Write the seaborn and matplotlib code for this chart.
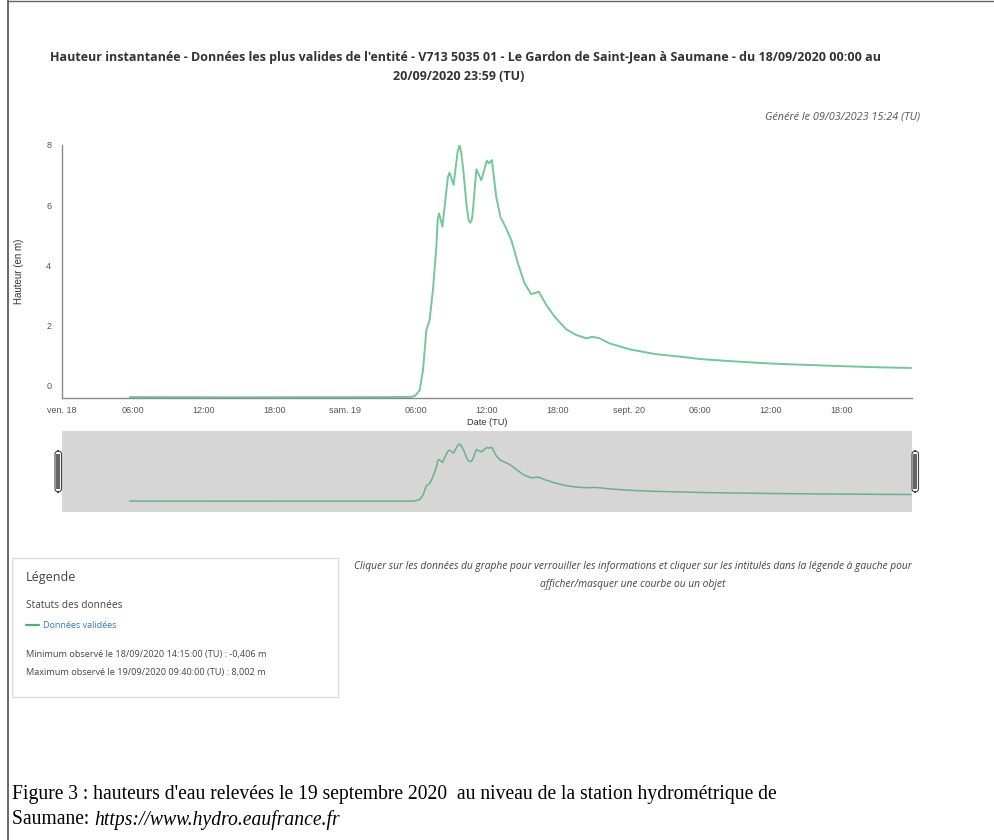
import matplotlib
matplotlib.use("Agg")
import matplotlib.pyplot as plt
from matplotlib.patches import Rectangle, FancyBboxPatch
from matplotlib.lines import Line2D
import seaborn as sns
import pandas as pd

# Water height at the Saumane gauge, hours counted from 18/09/2020 00:00 (TU)
heures = [5.75, 10.0, 14.25, 20.0, 26.0, 29.5, 29.9, 30.3, 30.58, 30.86, 31.14,
          31.42, 31.71, 31.82, 31.93, 32.05, 32.22, 32.41, 32.69, 32.83, 33.17,
          33.50, 33.667, 33.82, 34.02, 34.25, 34.44, 34.59, 34.72, 34.81, 35.10,
          35.52, 35.99, 36.16, 36.41, 36.78, 37.13, 37.63, 38.06, 38.62, 39.18,
          39.75, 40.39, 41.02, 41.72, 42.71, 43.55, 44.40, 44.96, 45.53, 46.38,
          48.10, 50.31, 52.58, 53.99, 56.53, 59.92, 63.30, 66.09, 69.48, 71.92]
hauteurs = [-0.398, -0.402, -0.406, -0.403, -0.400, -0.395, -0.36, -0.17, 0.50,
            1.83, 2.17, 3.17, 4.61, 5.50, 5.72, 5.56, 5.28, 5.94, 6.94, 7.08,
            6.67, 7.75, 8.002, 7.75, 7.06, 6.06, 5.50, 5.41, 5.52, 5.83, 7.19,
            6.83, 7.48, 7.39, 7.50, 6.28, 5.61, 5.22, 4.83, 4.06, 3.39, 3.03,
            3.11, 2.67, 2.28, 1.86, 1.67, 1.56, 1.61, 1.56, 1.39, 1.19, 1.03,
            0.94, 0.87, 0.80, 0.72, 0.67, 0.63, 0.59, 0.57]

x_ticks = [0, 6, 12, 18, 24, 30, 36, 42, 48, 54, 60, 66, 72]
x_labels = ["ven. 18", "06:00", "12:00", "18:00", "sam. 19", "06:00", "12:00",
            "18:00", "sept. 20", "06:00", "12:00", "18:00", ""]
y_ticks = [0, 2, 4, 6, 8]

titre_1 = ("Hauteur instantanée - Données les plus valides de l'entité - V713 5035 01 - "
           "Le Gardon de Saint-Jean à Saumane - du 18/09/2020 00:00 au")
titre_2 = "20/09/2020 23:59 (TU)"

df = pd.DataFrame({"heure": heures, "hauteur": hauteurs})

sns.set_style("white")
plt.rcParams["font.family"] = ["Liberation Sans", "DejaVu Sans"]

W, H = 995, 840
fig = plt.figure(figsize=(W / 100, H / 100), dpi=100)


def fx(px):
    return px / W


def fy(py):
    return 1 - py / H


ligne = "#74c898"
axe = "#8a8a8a"
y_min = -0.43

# main chart
ax = fig.add_axes([fx(62), fy(398), fx(912) - fx(62), fy(145) - fy(398)])
sns.lineplot(data=df, x="heure", y="hauteur", ax=ax, color=ligne, linewidth=1.4,
             legend=False)
ax.set_xlim(0, 72)
ax.set_ylim(y_min, 8.0)
ax.set_xticks(x_ticks)
ax.set_xticklabels(x_labels)
ax.set_yticks(y_ticks + [y_min])
ax.set_yticklabels([str(v) for v in y_ticks] + [""])
for s in ["top", "right"]:
    ax.spines[s].set_visible(False)
for s in ["left", "bottom"]:
    ax.spines[s].set_color(axe)
    ax.spines[s].set_linewidth(1.0)
ax.tick_params(axis="both", direction="out", length=4.3, width=0.9, color=axe,
               labelsize=6.5, labelcolor="#555555")
ax.tick_params(axis="x", pad=1.5)
ax.tick_params(axis="y", pad=3.5)
ax.set_xlabel("Date (TU)", fontsize=6.6, color="#333333", labelpad=2)
ax.set_ylabel("Hauteur (en m)", fontsize=7.0, color="#333333", labelpad=16)
ax.grid(False)
ax.set_facecolor("none")

# navigator strip
nav = fig.add_axes([fx(62), fy(512), fx(912) - fx(62), fy(431) - fy(512)])
nav.set_facecolor("#d6d6d6")
sns.lineplot(data=df, x="heure", y="hauteur", ax=nav, color="#6bb08c",
             linewidth=1.1, legend=False)
nav.set_xlim(0, 72)
nav.set_ylim(-2.0, 9.9)
nav.set_xticks([])
nav.set_yticks([])
nav.set_xlabel("")
nav.set_ylabel("")
for s in nav.spines.values():
    s.set_visible(False)

# navigator handles
for x0 in (55, 912):
    fig.add_artist(FancyBboxPatch((fx(x0), fy(492)), fx(6.5), fy(451) - fy(492),
                                  boxstyle="round,pad=0,rounding_size=0.004",
                                  transform=fig.transFigure, facecolor="white",
                                  edgecolor="#444444", linewidth=0.8))
    fig.add_artist(Rectangle((fx(x0 + 1.5), fy(489)), fx(3.8), fy(454) - fy(489),
                             transform=fig.transFigure, facecolor="#666666",
                             edgecolor="none"))

fo = ["Open Sans", "DejaVu Sans"]

# titles
fig.text(fx(465), fy(57), titre_1, ha="center", va="center", fontsize=9.0,
         fontweight="bold", color="#333333", family=fo)
fig.text(fx(459), fy(76), titre_2, ha="center", va="center", fontsize=9.0,
         fontweight="bold", color="#333333", family=fo)
fig.text(fx(920), fy(117), "Généré le 09/03/2023 15:24 (TU)", ha="right",
         va="center", fontsize=7.8, style="italic", color="#555555", family=fo)

# legend panel
fig.add_artist(Rectangle((fx(12), fy(697)), fx(326), fy(558) - fy(697),
                         transform=fig.transFigure, fill=False,
                         edgecolor="#dcdcdc", linewidth=1.0))
fig.text(fx(26), fy(577), "Légende", ha="left", va="center", fontsize=9.0,
         color="#444444", family=fo)
fig.text(fx(26), fy(606), "Statuts des données", ha="left", va="center",
         fontsize=7.3, color="#444444", family=fo)
fig.add_artist(Line2D([fx(26), fx(39)], [fy(625), fy(625)],
                      transform=fig.transFigure, color="#4cb074", linewidth=1.6))
fig.text(fx(43), fy(625), "Données validées", ha="left", va="center",
         fontsize=6.5, color="#3a74c4", family=fo)
fig.text(fx(26), fy(655), "Minimum observé le 18/09/2020 14:15:00 (TU) : -0,406 m",
         ha="left", va="center", fontsize=6.6, color="#444444", family=fo)
fig.text(fx(26), fy(672), "Maximum observé le 19/09/2020 09:40:00 (TU) : 8,002 m",
         ha="left", va="center", fontsize=6.6, color="#444444", family=fo)

# help text
fig.text(fx(633), fy(566),
         "Cliquer sur les données du graphe pour verrouiller les informations et "
         "cliquer sur les intitulés dans la légende à gauche pour",
         ha="center", va="center", fontsize=7.35, style="italic", color="#444444",
         family=fo)
fig.text(fx(633), fy(584), "afficher/masquer une courbe ou un objet", ha="center",
         va="center", fontsize=7.35, style="italic", color="#444444", family=fo)

# caption
serif = ["Liberation Serif", "DejaVu Serif"]
fig.text(fx(12), fy(795),
         "Figure 3 : hauteurs d'eau relevées le 19 septembre 2020  au niveau de la "
         "station hydrométrique de",
         ha="left", va="center", fontsize=14.1, color="black", family=serif)
t1 = fig.text(fx(12), fy(820), "Saumane: ", ha="left", va="center",
              fontsize=14.1, color="black", family=serif)
fig.canvas.draw()
bb = t1.get_window_extent()
fig.text(bb.x1 / W, fy(820), "https://www.hydro.eaufrance.fr", ha="left",
         va="center", fontsize=14.1, style="italic", color="black", family=serif)

# page frame
fig.add_artist(Line2D([fx(8), fx(8)], [0, 1], transform=fig.transFigure,
                      color="#666666", linewidth=1.4))
fig.add_artist(Line2D([fx(8), 1], [fy(0.5), fy(0.5)], transform=fig.transFigure,
                      color="#666666", linewidth=1.0))

fig.savefig("out.png", dpi=100, facecolor="white")
